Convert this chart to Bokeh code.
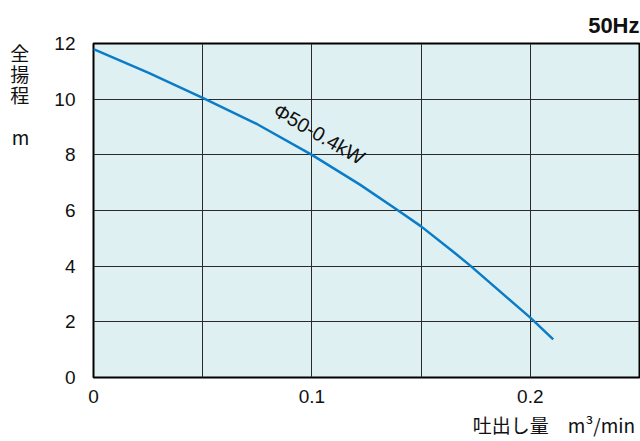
from bokeh.plotting import figure
from bokeh.models import Range1d, FixedTicker, Label, Title
from bokeh.embed import file_html
from bokeh.resources import INLINE

# data
flow = [0.0, 0.025, 0.05, 0.075, 0.1, 0.122, 0.139, 0.15, 0.165, 0.1725, 0.2, 0.2105]
head = [11.8, 10.95, 10.05, 9.1, 8.0, 6.93, 6.03, 5.43, 4.5, 4.02, 2.15, 1.37]
x_ticks = [0, 0.1, 0.2]
x_tick_labels = {0: "0", 0.1: "0.1", 0.2: "0.2"}
y_ticks = [0, 2, 4, 6, 8, 10, 12]
x_grid = [0.05, 0.1, 0.15, 0.2]
y_grid = [2, 4, 6, 8, 10]
curve_name = "Φ50-0.4kW"
freq = "50Hz"
y_title = "全\n揚\n程\n\nm" + "\n" * 11
x_title = "吐出し量　m³/min"

LAT = "Liberation Sans"
JP = "Noto Sans CJK JP"

p = figure(width=640, height=441, output_backend="svg", toolbar_location=None,
           x_range=Range1d(0, 0.25), y_range=Range1d(0, 12),
           min_border_left=93, min_border_right=1, min_border_top=43, min_border_bottom=64)

p.background_fill_color = "#dff0f3"
p.border_fill_color = "white"
p.outline_line_color = "black"
p.outline_line_width = 2

p.xgrid.ticker = FixedTicker(ticks=x_grid)
p.ygrid.ticker = FixedTicker(ticks=y_grid)
for g in (p.xgrid, p.ygrid):
    g.grid_line_color = "#2a2a2a"
    g.grid_line_width = 1
    g.grid_line_alpha = 1.0

p.xaxis.ticker = FixedTicker(ticks=x_ticks)
p.xaxis.major_label_overrides = x_tick_labels
p.yaxis.ticker = FixedTicker(ticks=y_ticks)
for ax in (p.xaxis, p.yaxis):
    ax.axis_line_color = None
    ax.major_tick_line_color = None
    ax.minor_tick_line_color = None
    ax.major_tick_out = 0
    ax.major_tick_in = 0
    ax.major_label_text_font = LAT
    ax.major_label_text_font_size = "19px"
    ax.major_label_text_color = "#111111"
p.xaxis.major_label_standoff = 12
p.yaxis.major_label_standoff = 18

p.yaxis.axis_label = y_title
p.yaxis.axis_label_orientation = "horizontal"
p.yaxis.axis_label_text_font = JP
p.yaxis.axis_label_text_font_size = "19px"
p.yaxis.axis_label_text_font_style = "normal"
p.yaxis.axis_label_text_color = "#111111"
p.yaxis.axis_label_text_line_height = 0.78
p.yaxis.axis_label_standoff = 22

xax = p.xaxis[0]
# label is centred on the axis end, so trailing ideographic spaces shift it left
xax.axis_label = x_title + "　" * 9
xax.axis_label_align = "end"
xax.axis_label_text_font = JP
xax.axis_label_text_font_size = "19px"
xax.axis_label_text_font_style = "normal"
xax.axis_label_text_color = "#111111"
xax.axis_label_text_line_height = 0.7
xax.axis_label_standoff = 5

p.line(flow, head, line_color="#0a7cc8", line_width=2.5)

p.add_layout(Label(x=0.1033, y=8.75, text=curve_name, angle=-30, angle_units="deg",
                   text_align="center", text_baseline="middle",
                   text_font=LAT, text_font_size="20px", text_color="#111111"))

p.add_layout(Title(text=freq, align="right", text_font=LAT, text_font_size="22px",
                   text_font_style="bold", text_color="#111111", standoff=12), "above")

open("out.html", "w").write(file_html(p, INLINE))
